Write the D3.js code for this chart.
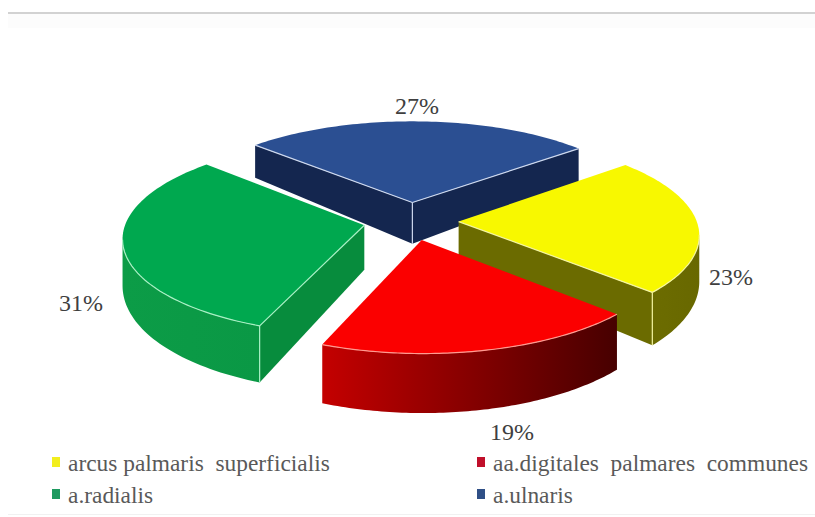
<!DOCTYPE html>
<html>
<head>
<meta charset="utf-8">
<script src="https://cdn.jsdelivr.net/npm/d3@7/dist/d3.min.js"></script>
<style>
html,body{margin:0;padding:0;background:#fff}
svg{display:block}
text{font-family:"Liberation Serif","Times New Roman","DejaVu Serif",serif;white-space:pre}
</style>
</head>
<body>
<svg id="chart" width="815" height="517"></svg>
<script>
// Blood-supply shares, clockwise from the first slice
const categories = ["arcus palmaris  superficialis", "aa.digitales  palmares  communes", "a.radialis", "a.ulnaris"];
const shares = [23, 19, 31, 27];
const shareLabels = ["23%", "19%", "31%", "27%"];

const topColors  = ["#f8f800", "#fb0000", "#00a84f", "#2b4f92"];
const wallColors = ["#6b6b00", "#8a0000", "#078c3d", "#14264f"];
const rimWallFrom = ["#6c6c00", "#c40000", "#0c9c47", "#14264f"];
const rimWallTo   = ["#686800", "#470000", "#0a9845", "#14264f"];
const edgeColors = ["#f4f4a0", "#ff9a90", "#a8f0c4", "#cdd8ee"];
const legendColors = ["#f2ee1e", "#c00f2a", "#1e9a60", "#2f4f86"];

const labelAnchors = [[731, 277], [512, 432], [81, 303], [417, 106]];
const legendAnchors = [[55, 471], [480, 471], [55, 503], [480, 503]];

const firstAngle = 50.3 * Math.PI / 180;
const explode = 0.2;
const perspective = 0.12;
const slopeDepth = 13, baseDepth = 44;

const svg = d3.select("#chart");

// Plane of the pie: X runs right, Y runs toward the back, both in radii
const px = d3.scaleLinear().domain([-1, 1]).range([411 - 238, 411 + 238]);
const py = d3.scaleLinear().domain([-1, 1]).range([221 + 95, 221 - 95]);
const project = (X, Y, drop = 0) => {
  const w = 1 + perspective * Y;
  return [px(X / w), py(Y / w) + (drop ? baseDepth - slopeDepth * Y : 0)];
};

const arcs = d3.pie().sort(null).startAngle(firstAngle).endAngle(firstAngle + 2 * Math.PI)(shares);
const line = d3.line();

const defs = svg.append("defs");
arcs.forEach((d, i) => {
  const g = defs.append("linearGradient").attr("id", "rim" + i);
  g.append("stop").attr("offset", 0).attr("stop-color", rimWallFrom[i]);
  g.append("stop").attr("offset", 1).attr("stop-color", rimWallTo[i]);
});

// Page rules above and below the chart
svg.append("rect").attr("x", 8).attr("y", 14).attr("width", 807).attr("height", 14).attr("fill", "#fcfcfc");
svg.append("rect").attr("x", 8).attr("y", 12).attr("width", 807).attr("height", 2).attr("fill", "#d2d2d2");
svg.append("rect").attr("x", 8).attr("y", 514).attr("width", 807).attr("height", 1).attr("fill", "#f1f1f1");

// Back slices first so the front ones cover them
const paintOrder = [3, 0, 2, 1];
paintOrder.forEach(i => {
  const d = arcs[i];
  const mid = (d.startAngle + d.endAngle) / 2;
  const ox = explode * Math.sin(mid), oy = explode * Math.cos(mid);
  const rim = d3.range(0, 81).map(k => {
    const t = d.startAngle + (d.endAngle - d.startAngle) * k / 80;
    return [ox + Math.sin(t), oy + Math.cos(t)];
  });
  const apex = [ox, oy];
  const top = p => project(p[0], p[1]);
  const low = p => project(p[0], p[1], true);
  const g = svg.append("g");

  const edgeLines = [];
  const cutWalls = [[apex, rim[0]], [rim[80], apex]];
  cutWalls.forEach(([a, b]) => {
    if (top(b)[0] < top(a)[0]) {
      g.append("path").attr("d", line([top(a), top(b), low(b), low(a)]) + "Z").attr("fill", wallColors[i]);
      edgeLines.push([top(a), top(b)]);
    }
  });

  // Only the part of the curved wall that turns toward the viewer
  const front = [];
  for (let k = 0; k < 80; k++) {
    if (top(rim[k + 1])[0] < top(rim[k])[0]) {
      if (!front.length) front.push(rim[k]);
      front.push(rim[k + 1]);
    }
  }
  if (front.length) {
    g.append("path")
      .attr("d", line(front.map(top).concat(front.slice().reverse().map(low))) + "Z")
      .attr("fill", `url(#rim${i})`);
    edgeLines.push(front.map(top));
  }

  g.append("path").attr("d", line([apex].concat(rim).map(top)) + "Z").attr("fill", topColors[i]);

  edgeLines.forEach(pts => {
    g.append("path").attr("d", line(pts)).attr("fill", "none")
      .attr("stroke", edgeColors[i]).attr("stroke-width", 1.2);
  });
  // Vertical edge at the corner between two visible walls
  const corner = i === 3 ? apex : i === 0 ? rim[80] : i === 2 ? rim[0] : null;
  if (corner) {
    g.append("path").attr("d", line([top(corner), low(corner)])).attr("fill", "none")
      .attr("stroke", edgeColors[i]).attr("stroke-width", 1.2);
  }
});

// Percentage labels
svg.selectAll("text.share").data(shareLabels).join("text").attr("class", "share")
  .attr("x", (d, i) => labelAnchors[i][0]).attr("y", (d, i) => labelAnchors[i][1])
  .attr("dy", "0.35em").attr("text-anchor", "middle")
  .attr("font-size", 24).attr("fill", "#3f3f3f").text(d => d);

// Legend
const legend = svg.selectAll("g.key").data(categories).join("g").attr("class", "key")
  .attr("transform", (d, i) => `translate(${legendAnchors[i][0]},${legendAnchors[i][1]})`);
legend.append("rect").attr("x", -3).attr("y", -14).attr("width", 8).attr("height", 10)
  .attr("fill", (d, i) => legendColors[i]);
legend.append("text").attr("x", 13).attr("font-size", 23.4).attr("fill", "#595959").text(d => d);
</script>
</body>
</html>
